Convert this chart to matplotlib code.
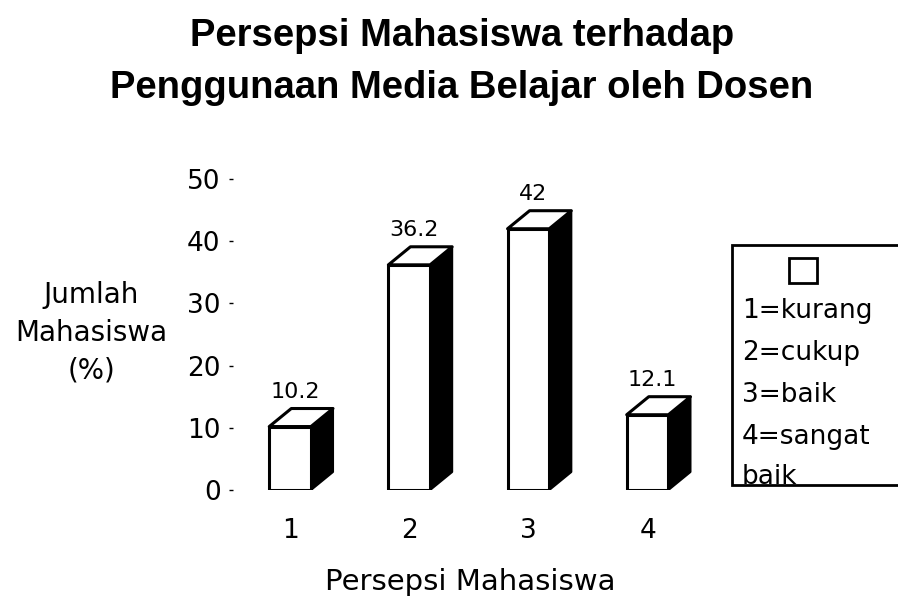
import matplotlib.pyplot as plt
from matplotlib.patches import Polygon, Rectangle

# 字体
plt.rcParams['font.family'] = ['DejaVu Sans']

# 数据
kategori = [1, 2, 3, 4]
persen = [10.2, 36.2, 42, 12.1]
label_nilai = ['10.2', '36.2', '42', '12.1']
yticks = [0, 10, 20, 30, 40, 50]
keterangan = ['1=kurang', '2=cukup', '3=baik', '4=sangat', 'baik']

judul1 = 'Persepsi Mahasiswa terhadap'
judul2 = 'Penggunaan Media Belajar oleh Dosen'

# 立体柱子的尺寸 (数据单位)
lebar = 0.35
dx = 0.185
dy = 2.9

fig = plt.figure(figsize=(8.98, 5.98), dpi=100)
ax = fig.add_axes([0.2595, 0.1806, 0.52, 0.5201])

# 正面
ax.bar(kategori, persen, width=lebar, color='white', edgecolor='black', linewidth=2.2, zorder=3)
for x, v, t in zip(kategori, persen, label_nilai):
    kanan = x + lebar / 2
    kiri = x - lebar / 2
    # 侧面 (黑色)
    sisi = Polygon([(kanan, 0), (kanan + dx, dy), (kanan + dx, v + dy), (kanan, v)],
                   closed=True, facecolor='black', edgecolor='black', linewidth=1.5,
                   joinstyle='round', zorder=2)
    ax.add_patch(sisi)
    # 顶面
    atas = Polygon([(kiri, v), (kiri + dx, v + dy), (kanan + dx, v + dy), (kanan, v)],
                   closed=True, facecolor='white', edgecolor='black', linewidth=2.2,
                   joinstyle='round', zorder=4)
    ax.add_patch(atas)
    ax.text(x + 0.04, v + dy + 2.7, t, ha='center', va='center', fontsize=16)

ax.set_xlim(0.521, 4.44)
ax.set_ylim(0, 50)
ax.set_xticks(kategori)
ax.set_yticks(yticks)
ax.tick_params(axis='x', length=0, pad=20, labelsize=19)
ax.tick_params(axis='y', length=3, width=1, pad=6, labelsize=19)
for s in ax.spines.values():
    s.set_visible(False)

# 标题
fig.text(0.5145, 1 - 46 / 598, judul1, ha='center', va='baseline', fontsize=27.5,
         fontweight='bold', family='Liberation Sans')
fig.text(0.5145, 1 - 98 / 598, judul2, ha='center', va='baseline', fontsize=27.5,
         fontweight='bold', family='Liberation Sans')

# 坐标轴标签
fig.text(91 / 898, 1 - 333 / 598, 'Jumlah\nMahasiswa\n(%)', ha='center', va='center',
         multialignment='center', fontsize=20, linespacing=1.44)
fig.text(470 / 898, 1 - 582 / 598, 'Persepsi Mahasiswa', ha='center', va='center', fontsize=21)

# 图例
kotak = Rectangle((732 / 898, 1 - 485 / 598), 200 / 898, 240 / 598, transform=fig.transFigure,
                  facecolor='white', edgecolor='black', linewidth=2, clip_on=False)
fig.patches.append(kotak)
kecil = Rectangle((789 / 898, 1 - 283 / 598), 28 / 898, 25 / 598, transform=fig.transFigure,
                  facecolor='white', edgecolor='black', linewidth=2)
fig.patches.append(kecil)
baseline = [318, 360, 402, 444, 484]
for t, b in zip(keterangan, baseline):
    fig.text(742 / 898, 1 - b / 598, t, ha='left', va='baseline', fontsize=19)

plt.savefig('out.png', dpi=100)
